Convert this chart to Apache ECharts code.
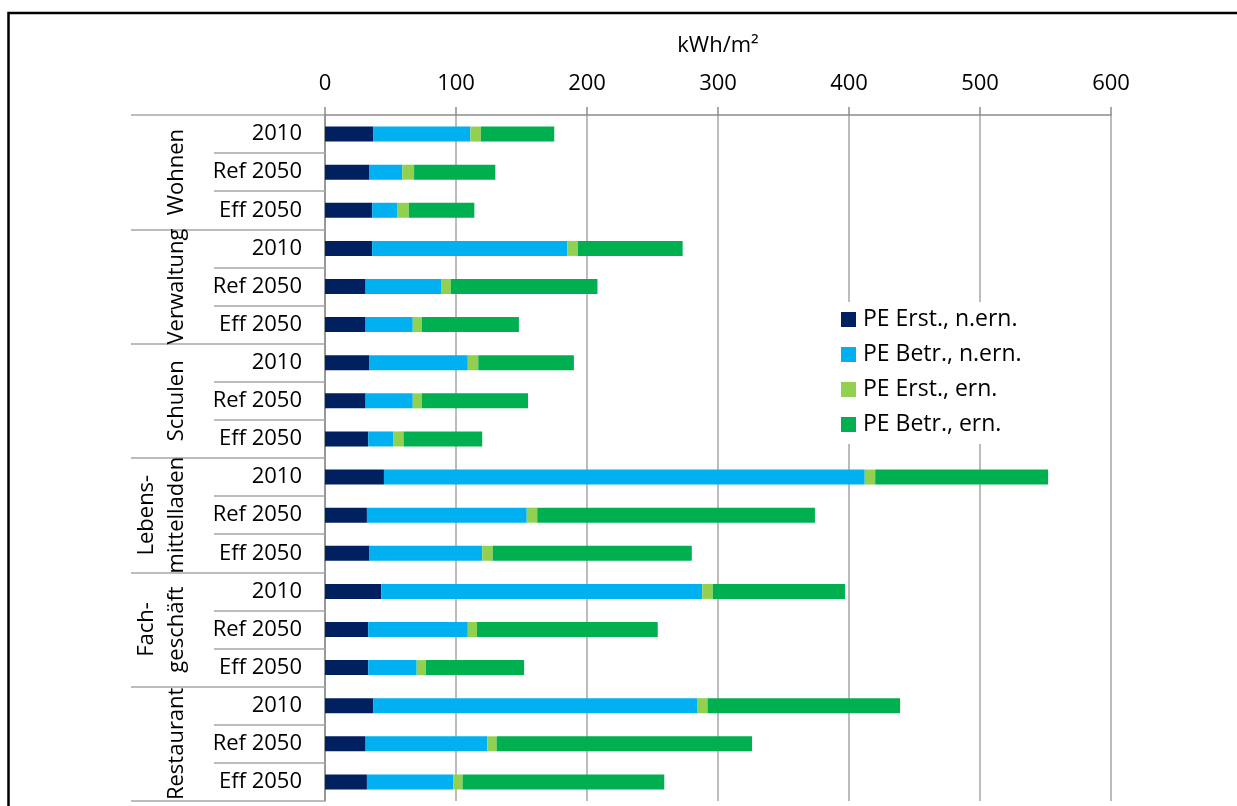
<!DOCTYPE html>
<html>
<head>
<meta charset="utf-8">
<title>Primärenergie je m²</title>
<script src="https://cdn.jsdelivr.net/npm/echarts@6/dist/echarts.min.js"></script>
<style>
  html, body { margin: 0; padding: 0; background: #fff; }
  #chart { width: 1237px; height: 806px; }
</style>
</head>
<body>
<div id="chart"></div>
<script>
  // Gebäudetypen und Szenarien
  var groups = ['Wohnen', 'Verwaltung', 'Schulen', 'Lebens-\nmittelladen', 'Fach-\ngeschäft', 'Restaurant'];
  var scenarios = ['2010', 'Ref 2050', 'Eff 2050'];
  var xTicks = [0, 100, 200, 300, 400, 500, 600];

  // kWh/m², je Zeile (Gruppe x Szenario), von oben nach unten
  var peErstNern = [37, 34, 36, 36, 31, 31, 34, 31, 33, 45, 32, 34, 43, 33, 33, 37, 31, 32];
  var peBetrNern = [74, 25, 19, 149, 58, 36, 75, 36, 19, 367, 122, 86, 245, 76, 37, 247, 93, 66];
  var peErstErn = [8, 9, 9, 8, 7, 7, 8, 7, 8, 8, 8, 8, 8, 7, 7, 8, 7, 7];
  var peBetrErn = [56, 62, 50, 80, 112, 74, 73, 81, 60, 132, 212, 152, 101, 138, 75, 147, 195, 154];

  var seriesNames = ['PE Erst., n.ern.', 'PE Betr., n.ern.', 'PE Erst., ern.', 'PE Betr., ern.'];
  var seriesColors = ['#002060', '#00b0f0', '#92d050', '#00b050'];

  var rows = [];
  groups.forEach(function () {
    scenarios.forEach(function (s) { rows.push(s); });
  });

  var FONT = 'Open Sans';
  var FS = 22;
  var chart = echarts.init(document.getElementById('chart'));

  function bar(i, data) {
    return {
      name: seriesNames[i],
      type: 'bar',
      stack: 'pe',
      barWidth: 15,
      itemStyle: { color: seriesColors[i] },
      data: data
    };
  }

  chart.setOption({
    animation: false,
    textStyle: { fontFamily: FONT },
    grid: { left: 325, right: 126, top: 115, bottom: 5, containLabel: false },
    legend: {
      orient: 'vertical',
      left: 835,
      top: 302,
      padding: [6, 10, 8, 6],
      backgroundColor: '#fff',
      itemWidth: 15,
      itemHeight: 15,
      itemGap: 12,
      icon: 'rect',
      textStyle: { fontFamily: FONT, fontSize: 23, color: '#000', padding: [0, 0, 0, 2] },
      data: seriesNames
    },
    xAxis: {
      type: 'value',
      position: 'top',
      min: xTicks[0],
      max: xTicks[xTicks.length - 1],
      interval: 100,
      name: 'kWh/m²',
      nameLocation: 'middle',
      nameGap: 58,
      nameTextStyle: { fontFamily: FONT, fontSize: FS, color: '#000' },
      axisLine: { show: true, lineStyle: { color: '#8c8c8c', width: 1.5 } },
      axisTick: { show: true, length: 8, lineStyle: { color: '#8c8c8c', width: 1.5 } },
      axisLabel: { margin: 20, fontFamily: FONT, fontSize: FS, color: '#000' },
      splitLine: { show: true, lineStyle: { color: '#a6a6a6', width: 1.5 } }
    },
    yAxis: [
      {
        type: 'category',
        inverse: true,
        position: 'left',
        data: rows,
        axisLine: { show: true, lineStyle: { color: '#8c8c8c', width: 1.5 } },
        axisTick: { show: true, length: 111, lineStyle: { color: '#a6a6a6', width: 1.5 } },
        axisLabel: { interval: 0, margin: 23, fontFamily: FONT, fontSize: FS, color: '#000' }
      },
      {
        type: 'category',
        inverse: true,
        position: 'left',
        data: groups,
        axisLine: { show: false },
        axisTick: { show: true, length: 194, lineStyle: { color: '#a6a6a6', width: 1.5 } },
        axisLabel: {
          interval: 0, rotate: 90, margin: 133, align: 'center',
          fontFamily: FONT, fontSize: FS, lineHeight: 30, color: '#000'
        }
      }
    ],
    series: [
      bar(0, peErstNern),
      bar(1, peBetrNern),
      bar(2, peErstErn),
      bar(3, peBetrErn)
    ],
    graphic: [{
      type: 'rect',
      silent: true,
      shape: { x: 8.5, y: 13, width: 1300, height: 900 },
      style: { fill: 'none', stroke: '#000', lineWidth: 2.5 }
    }]
  });
</script>
</body>
</html>
